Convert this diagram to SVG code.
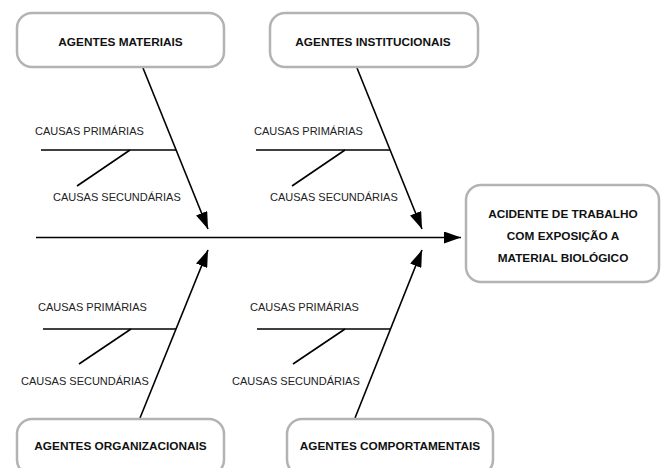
<svg xmlns="http://www.w3.org/2000/svg" width="662" height="468" viewBox="0 0 662 468">
<style>
.box{fill:#fff;stroke:#b3b3b3;stroke-width:2.5}
.t{font-family:"Liberation Sans",Arial,sans-serif;font-weight:bold;font-size:11.8px;fill:#111;text-anchor:middle}
.c{font-family:"Liberation Sans",Arial,sans-serif;font-size:11px;fill:#222}
.ln{stroke:#000;stroke-width:1.6;fill:none}
</style>
<defs>
<marker id="ah" markerUnits="userSpaceOnUse" markerWidth="17" markerHeight="12" refX="17" refY="6" orient="auto">
<path d="M0,0 L17,6 L0,12 z" fill="#000"/>
</marker>
</defs>
<g id="connectors">
<line class="ln" x1="36" y1="237.5" x2="461" y2="237.5" stroke-width="2" marker-end="url(#ah)"/>
<line class="ln" x1="143" y1="68" x2="208" y2="229" marker-end="url(#ah)"/>
<line class="ln" x1="357" y1="68" x2="422" y2="229" marker-end="url(#ah)"/>
<line class="ln" x1="140" y1="418" x2="208" y2="250" marker-end="url(#ah)"/>
<line class="ln" x1="355" y1="418" x2="422" y2="250" marker-end="url(#ah)"/>
<line class="ln" x1="41" y1="150" x2="176" y2="150"/>
<line class="ln" x1="130" y1="150" x2="77" y2="186"/>
<line class="ln" x1="256" y1="150" x2="390" y2="150"/>
<line class="ln" x1="345" y1="150" x2="292" y2="186"/>
<line class="ln" x1="43" y1="329" x2="176" y2="329"/>
<line class="ln" x1="131" y1="329" x2="79" y2="364"/>
<line class="ln" x1="257" y1="329" x2="390" y2="329"/>
<line class="ln" x1="345" y1="329" x2="293" y2="364"/>
</g>
<g id="labels">
<text class="c" x="35" y="135">CAUSAS PRIMÁRIAS</text>
<text class="c" x="53" y="201">CAUSAS SECUNDÁRIAS</text>
<text class="c" x="254" y="135">CAUSAS PRIMÁRIAS</text>
<text class="c" x="270" y="201">CAUSAS SECUNDÁRIAS</text>
<text class="c" x="38" y="311">CAUSAS PRIMÁRIAS</text>
<text class="c" x="21" y="385">CAUSAS SECUNDÁRIAS</text>
<text class="c" x="250" y="311">CAUSAS PRIMÁRIAS</text>
<text class="c" x="232" y="385">CAUSAS SECUNDÁRIAS</text>
</g>
<g id="agentes-materiais">
<rect class="box" x="17" y="13" width="207" height="54" rx="15"/>
<text class="t" x="120.5" y="46">AGENTES MATERIAIS</text>
</g>
<g id="agentes-institucionais">
<rect class="box" x="270" y="13" width="208" height="54" rx="15"/>
<text class="t" x="373" y="46">AGENTES INSTITUCIONAIS</text>
</g>
<g id="agentes-organizacionais">
<rect class="box" x="17" y="419" width="207" height="56" rx="15"/>
<text class="t" x="120.5" y="450">AGENTES ORGANIZACIONAIS</text>
</g>
<g id="agentes-comportamentais">
<rect class="box" x="287" y="419" width="206" height="56" rx="15"/>
<text class="t" x="390" y="450">AGENTES COMPORTAMENTAIS</text>
</g>
<g id="acidente">
<rect class="box" x="466" y="185" width="193" height="97" rx="15"/>
<text class="t" x="563" y="218">ACIDENTE DE TRABALHO</text>
<text class="t" x="563" y="240">COM EXPOSIÇÃO A</text>
<text class="t" x="563" y="262">MATERIAL BIOLÓGICO</text>
</g>
</svg>
